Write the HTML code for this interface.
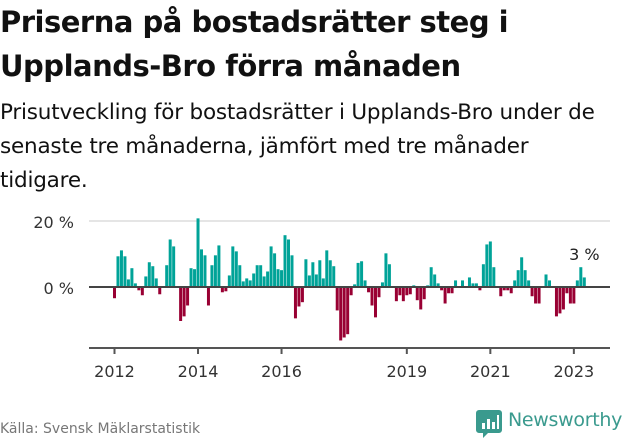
<!DOCTYPE html>
<html><head><meta charset="utf-8"><style>
body{margin:0;width:631px;height:439px;background:#fff;font-family:"Liberation Sans","DejaVu Sans",sans-serif;overflow:hidden;position:relative;color:#111}
h1{position:absolute;left:0;top:0px;margin:0;font-size:29px;line-height:44px;font-weight:bold;font-family:"DejaVu Sans",sans-serif;letter-spacing:-0.5px}
.sub{position:absolute;left:0;top:96px;margin:0;font-size:21.5px;line-height:34px;font-family:"DejaVu Sans",sans-serif;width:628px;letter-spacing:-0.2px}
.src{position:absolute;left:0;top:421px;font-size:14px;color:#777;font-family:"DejaVu Sans",sans-serif}
</style></head><body>
<h1>Priserna på bostadsrätter steg i<br>Upplands-Bro förra månaden</h1>
<p class="sub">Prisutveckling för bostadsrätter i Upplands-Bro under de<br>senaste tre månaderna, jämfört med tre månader<br>tidigare.</p>
<svg id="chart" width="631" height="439" style="position:absolute;left:0;top:0" font-family="DejaVu Sans, sans-serif"></svg>
<div class="src">Källa: Svensk Mäklarstatistik</div>
<div style="position:absolute;left:476px;top:408px;height:30px">
<svg width="26" height="30" style="position:absolute;left:0;top:2px"><path d="M3 0h20a3 3 0 0 1 3 3v17a3 3 0 0 1-3 3H12l-5 5v-5H3a3 3 0 0 1-3-3V3a3 3 0 0 1 3-3z" fill="#3a9a8e"/><rect x="6" y="13" width="3" height="6" fill="#fff"/><rect x="11" y="9" width="3" height="10" fill="#fff"/><rect x="16" y="12" width="3" height="7" fill="#fff"/><rect x="21" y="5" width="2" height="14" fill="#fff"/></svg>
<span style="position:absolute;left:32px;top:1px;font-size:19px;color:#3a9a8e;font-family:'DejaVu Sans',sans-serif;letter-spacing:-0.3px;white-space:nowrap">Newsworthy</span></div>
<script>
const values=[-3.4,9.3,11.1,9.3,2.3,5.7,1.1,-1.0,-2.5,3.2,7.5,6.3,2.6,-2.2,0,6.6,14.4,12.3,0,-10.3,-8.9,-5.6,5.7,5.4,20.8,11.4,9.6,-5.6,6.6,9.6,12.6,-1.6,-1.3,3.5,12.3,10.8,6.6,1.7,2.6,2.0,4.1,6.6,6.6,3.2,4.7,12.3,10.2,5.4,5.1,15.7,14.4,9.6,-9.5,-5.9,-4.6,8.4,3.5,7.5,3.8,8.1,2.6,11.1,8.1,6.3,-7.1,-16.2,-15.3,-14.3,-2.5,0.8,7.3,7.8,2.0,-1.6,-5.6,-9.2,-3.1,1.4,10.2,6.9,0,-4.3,-2.5,-4.3,-2.5,-2.2,0.5,-4.0,-6.8,-3.7,0.5,6.0,3.8,1.1,-1.0,-5.0,-1.9,-1.9,2.0,0,2.0,0,2.9,1.1,1.1,-1.0,6.9,12.9,13.8,6.0,0,-2.8,-1.0,-1.0,-1.9,2.0,5.1,9.0,5.1,2.0,-2.8,-5.0,-5.0,0,3.8,2.0,0,-8.9,-8.0,-6.8,-1.9,-5.0,-5.0,2.0,6.0,2.9];
const startYear=2012;
const yTicks=[0,20];
const yTickLabels=["0 %","20 %"];
const xTickYears=[2012,2014,2016,2019,2021,2023];
const annotation="3 %";
const NS="http://www.w3.org/2000/svg";
const svg=document.getElementById('chart');
const y=v=>287-v*3.3;
const x=i=>114.5+i*3.48;
function mk(t,a){const e=document.createElementNS(NS,t);for(const k in a)e.setAttribute(k,a[k]);svg.appendChild(e);return e;}
yTicks.forEach((t,k)=>{
 if(t!==0){const g=mk('line',{x1:89,x2:610,y1:y(t),y2:y(t),stroke:'#e5e5e5','stroke-width':2});
 
 }
 const l=mk('text',{x:74,y:y(t)+7,'text-anchor':'end','font-size':16,fill:'#333'});l.textContent=yTickLabels[k];
 
 
});
values.forEach((v,i)=>{
 const r=mk('rect',{x:x(i)-1.5,width:3,y:v>=0?y(v):y(0),height:Math.abs(y(v)-y(0)),fill:v>=0?'#00a398':'#990033'});
 
 
});
const z=mk('line',{x1:89,x2:610,y1:y(0),y2:y(0),stroke:'#444','stroke-width':2});


const ax=mk('line',{x1:89,x2:610,y1:348,y2:348,stroke:'#555','stroke-width':2});


xTickYears.forEach(yr=>{
 const xi=x((yr-startYear)*12);
 const t=mk('line',{x1:xi,x2:xi,y1:348,y2:354,stroke:'#555','stroke-width':2});
 
 
 const l=mk('text',{x:xi,y:377,'text-anchor':'middle','font-size':16,fill:'#333'});l.textContent=yr;
 
 
});
const li=values.length-1;
const a=mk('text',{x:x(li),y:260,'text-anchor':'middle','font-size':16,fill:'#222'});a.textContent=annotation;


</script>
</body></html>
